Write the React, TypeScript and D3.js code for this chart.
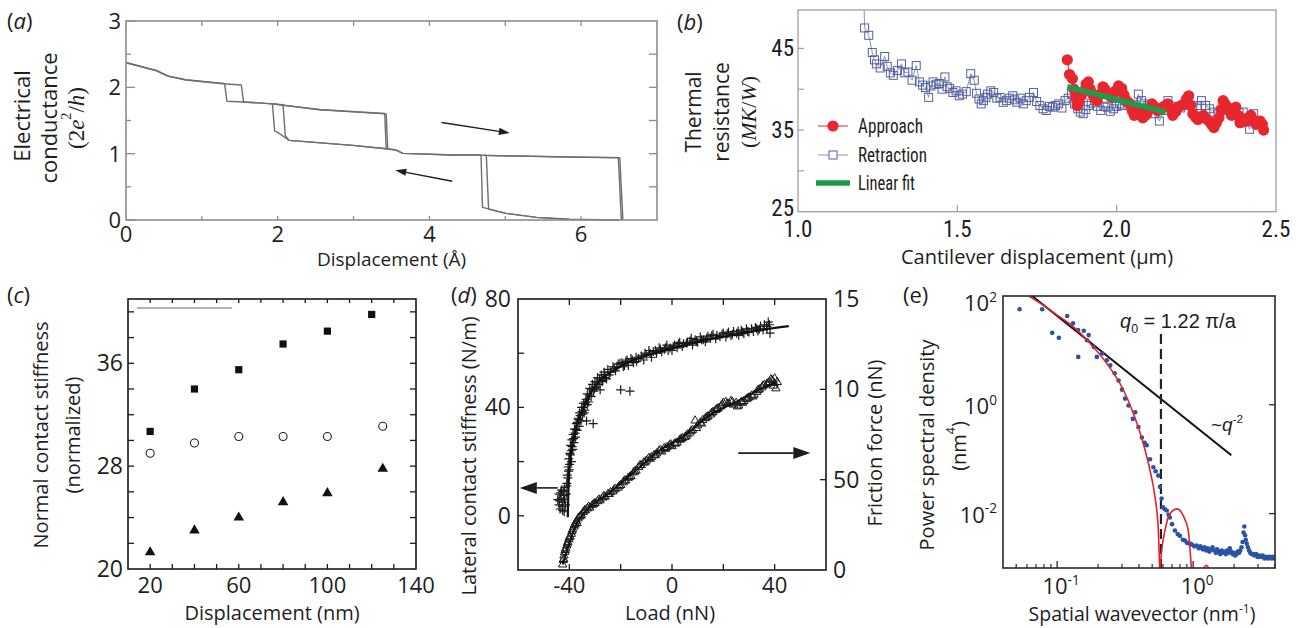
import React, { useEffect, useRef } from 'react';
import * as d3 from 'd3';

type Pt = [number, number];

const SANS = "'Open Sans', 'Noto Sans', 'DejaVu Sans', sans-serif";
const NARROW = "'Liberation Sans Narrow', 'Arial Narrow', 'Roboto Condensed', 'Liberation Sans', sans-serif";
const SERIF = "'Liberation Serif', 'DejaVu Serif', serif";
const ARIAL = "'Liberation Sans', Arial, sans-serif";
const INK = '#1e1e1e';

// ---------- (a) electrical conductance vs displacement (Å, 2e²/h)
const condTrace1: Pt[] = [[0, 2.375], [0.4, 2.255], [0.57, 2.165], [0.79, 2.115], [1.28, 2.06], [1.3, 2.055], [1.33, 1.79], [1.55, 1.78], [1.93, 1.75], [1.96, 1.34], [2.0, 1.32], [2.1, 1.24], [2.15, 1.2], [2.99, 1.125], [3.43, 1.075], [3.56, 1.055], [3.65, 1.005], [4.31, 0.98], [4.68, 0.98], [4.7, 0.19], [5.01, 0.1], [5.41, 0.04], [5.85, 0.012], [6.5, 0]];
const condTrace2: Pt[] = [[0, 2.37], [0.4, 2.25], [0.55, 2.17], [0.79, 2.11], [1.28, 2.055], [1.52, 2.035], [1.55, 1.78], [1.93, 1.75], [2.07, 1.74], [2.1, 1.27], [2.15, 1.2], [2.99, 1.125], [3.43, 1.075], [3.56, 1.055], [3.65, 1.005], [4.31, 0.98], [4.75, 0.978], [4.78, 0.165], [5.01, 0.1], [5.41, 0.04], [5.85, 0.01], [6.5, 0]];
const condUpper1: Pt[] = [[1.93, 1.75], [2.55, 1.665], [3.41, 1.605], [3.43, 1.075]];
const condUpper2: Pt[] = [[1.95, 1.748], [2.55, 1.66], [3.43, 1.6], [3.45, 1.07]];
const condPlateau1: Pt[] = [[4.7, 0.975], [5.85, 0.95], [6.49, 0.94], [6.53, 0]];
const condPlateau2: Pt[] = [[4.78, 0.972], [5.85, 0.948], [6.51, 0.938], [6.55, 0]];
const condArrows: [Pt, Pt][] = [[[4.16, 1.47], [5.06, 1.31]], [[4.3, 0.585], [3.55, 0.75]]];
const condXTicks = [0, 2, 4, 6];
const condYTicks = [0, 1, 2, 3];

// ---------- (b) thermal resistance vs cantilever displacement (µm, MK/W)
const retraction: Pt[] = [[1.207, 51.0], [1.209, 47.5], [1.222, 46.6], [1.233, 44.5], [1.24, 43.6], [1.246, 43.1], [1.258, 42.6], [1.272, 44.0], [1.28, 42.8], [1.29, 42.0], [1.299, 41.7], [1.312, 42.3], [1.325, 43.1], [1.335, 42.0], [1.345, 42.1], [1.358, 41.1], [1.371, 42.9], [1.381, 40.9], [1.391, 40.5], [1.4, 40.2], [1.41, 39.0], [1.417, 40.4], [1.424, 40.9], [1.433, 40.6], [1.443, 40.7], [1.452, 40.0], [1.461, 41.5], [1.468, 40.3], [1.476, 40.1], [1.486, 39.6], [1.496, 39.8], [1.506, 39.2], [1.516, 39.4], [1.528, 39.7], [1.542, 41.9], [1.553, 41.1], [1.56, 39.5], [1.568, 38.8], [1.575, 38.2], [1.582, 38.6], [1.59, 39.0], [1.595, 39.4], [1.605, 39.8], [1.614, 39.6], [1.624, 38.9], [1.634, 39.0], [1.644, 38.4], [1.654, 38.6], [1.664, 38.9], [1.674, 39.2], [1.68, 38.7], [1.687, 38.4], [1.697, 38.9], [1.707, 38.2], [1.716, 38.6], [1.726, 39.0], [1.739, 39.6], [1.749, 38.5], [1.759, 38.0], [1.769, 37.6], [1.779, 37.4], [1.789, 37.9], [1.799, 37.8], [1.808, 38.0], [1.818, 38.2], [1.828, 37.7], [1.838, 38.6], [1.848, 38.9], [1.858, 39.4], [1.868, 38.2], [1.878, 37.6], [1.886, 37.2], [1.895, 37.0], [1.903, 37.5], [1.911, 38.0], [1.92, 38.3], [1.93, 38.6], [1.94, 37.9], [1.95, 37.4], [1.96, 37.9], [1.97, 37.8], [1.98, 37.3], [1.99, 37.6], [2.0, 37.9], [2.009, 38.2], [2.019, 38.0], [2.029, 38.6], [2.039, 38.0], [2.049, 37.6], [2.058, 38.1], [2.068, 39.4], [2.078, 38.6], [2.088, 38.2], [2.098, 38.0], [2.108, 37.8], [2.12, 37.0], [2.134, 36.1], [2.147, 37.4], [2.161, 38.6], [2.174, 37.9], [2.187, 37.4], [2.2, 37.7], [2.213, 38.0], [2.226, 38.2], [2.239, 37.8], [2.252, 38.0], [2.266, 38.6], [2.279, 38.0], [2.292, 37.6], [2.305, 37.2], [2.318, 37.0], [2.331, 37.5], [2.345, 37.4], [2.358, 37.0], [2.371, 36.8], [2.384, 37.1], [2.397, 37.2], [2.407, 36.0], [2.417, 35.1], [2.424, 36.3], [2.43, 37.0]];
const approach: Pt[] = [[1.845, 43.6], [1.852, 41.8], [1.861, 41.3], [1.866, 40.0], [1.871, 39.0], [1.876, 38.0], [1.882, 38.4], [1.889, 39.2], [1.897, 39.8], [1.904, 40.6], [1.911, 40.9], [1.917, 40.0], [1.924, 39.4], [1.931, 38.9], [1.939, 38.6], [1.948, 39.4], [1.957, 40.3], [1.963, 40.0], [1.97, 39.6], [1.977, 39.3], [1.983, 39.0], [1.99, 39.4], [1.996, 39.8], [2.006, 40.4], [2.016, 40.1], [2.023, 39.3], [2.029, 38.6], [2.036, 38.4], [2.042, 38.2], [2.049, 37.4], [2.055, 36.8], [2.062, 37.0], [2.068, 37.4], [2.075, 36.9], [2.082, 36.5], [2.088, 36.7], [2.095, 37.0], [2.103, 37.6], [2.111, 38.2], [2.12, 37.8], [2.128, 37.4], [2.137, 37.5], [2.145, 37.8], [2.153, 38.0], [2.161, 38.2], [2.169, 37.6], [2.176, 36.8], [2.184, 37.2], [2.193, 37.8], [2.202, 38.0], [2.211, 38.2], [2.219, 38.8], [2.226, 39.2], [2.232, 38.0], [2.239, 37.0], [2.247, 36.6], [2.255, 36.3], [2.263, 36.6], [2.272, 36.8], [2.28, 36.4], [2.289, 36.1], [2.297, 35.7], [2.305, 35.3], [2.313, 35.9], [2.321, 36.5], [2.327, 37.5], [2.334, 38.6], [2.34, 38.2], [2.347, 37.8], [2.354, 37.3], [2.361, 36.8], [2.367, 37.3], [2.374, 37.8], [2.381, 36.8], [2.387, 35.9], [2.396, 36.0], [2.404, 36.1], [2.412, 36.5], [2.421, 36.8], [2.429, 36.2], [2.437, 35.7], [2.444, 35.9], [2.45, 36.1], [2.457, 35.7], [2.461, 35.0]];
const linearFit: Pt[] = [[1.845, 40.3], [2.154, 37.2]];
const thermLegend = ['Approach', 'Retraction', 'Linear fit'];
const thermXTicks = [1.0, 1.5, 2.0, 2.5];
const thermYTicks = [25, 35, 45];

// ---------- (c) normal contact stiffness vs displacement (nm)
const stiffX = [20, 40, 60, 80, 100, 120];
const stiffSquares = [30.7, 34.0, 35.5, 37.5, 38.5, 39.8];
const stiffX2 = [20, 40, 60, 80, 100, 125];
const stiffCircles = [29.0, 29.8, 30.3, 30.3, 30.3, 31.1];
const stiffTriangles = [21.3, 23.0, 24.0, 25.2, 25.9, 27.8];
const stiffGrayLine: Pt[] = [[14, 40.3], [57, 40.3]];
const stiffXTicks = [20, 60, 100, 140];
const stiffYTicks = [20, 28, 36];

// ---------- (d) lateral stiffness (left, N/m) and friction force (right, nN) vs load (nN)
const lateralStiff: Pt[] = [[-44.5, 6], [-44, 8], [-44, 4], [-43.8, 5.5], [-43.6, 2.5], [-43.4, 8.5], [-43.2, 6.5], [-43, 9.5], [-42.8, 3.5], [-42.6, 2], [-42.5, 5], [-42.3, 9], [-42.2, 7.5], [-42, 1.5], [-41.9, 6], [-41.8, 10.5], [-41.5, 4], [-41.2, 8], [-41, 12], [-40.9, 11], [-40.8, 15], [-40.6, 14], [-40.5, 18], [-40.3, 16.5], [-40.2, 21], [-40, 17], [-39.9, 19], [-39.8, 23], [-39.6, 22.5], [-39.5, 26], [-39.3, 24], [-39.2, 20], [-39, 28], [-38.9, 25.5], [-38.7, 24.5], [-38.5, 30], [-38.4, 28.5], [-38.2, 27], [-38, 32], [-37.8, 30.5], [-37.6, 29], [-37.4, 32], [-37.3, 34], [-37, 31.5], [-36.8, 34.5], [-36.6, 36], [-36.4, 35.5], [-36.2, 33], [-36, 38], [-35.8, 37], [-35.5, 35], [-35.2, 40], [-35, 38.5], [-34.8, 37.5], [-34.6, 40], [-34.4, 41.5], [-34.2, 38], [-34, 39], [-33.8, 42], [-33.5, 43], [-33.3, 35], [-33, 45], [-33, 41], [-32.5, 42], [-32.2, 44.5], [-32, 47], [-31.5, 44], [-31.2, 46.5], [-31, 48.5], [-30.7, 34], [-30.5, 46], [-30.2, 47], [-30, 49.5], [-29.5, 47.5], [-29.2, 49], [-29, 51], [-28.5, 48.5], [-28.2, 50.5], [-28, 46.5], [-27.5, 52], [-27.2, 49.5], [-27, 50], [-26.5, 53], [-26.2, 52], [-26, 51], [-25.5, 50.5], [-25, 54], [-24.5, 52], [-24, 53], [-23, 55], [-22.5, 54.5], [-22, 53.5], [-21.5, 55], [-21, 56], [-20.3, 56.3], [-20, 46.5], [-19.5, 56.5], [-19, 55], [-18.5, 55.5], [-18, 57], [-17.5, 57.5], [-17, 55.5], [-16.4, 46], [-16, 58], [-15.5, 57.5], [-15, 56.5], [-14, 58.5], [-13.8, 57], [-13, 58], [-12, 59], [-11, 57.5], [-10.5, 60], [-10, 59.5], [-9, 61], [-8.5, 60], [-8, 58.5], [-7.3, 60.6], [-6.5, 61], [-6, 60], [-5, 62], [-4.5, 61.5], [-4, 60.5], [-3, 61.5], [-2.5, 62], [-2, 63], [-1.5, 61], [-0.8, 61.9], [0, 61], [0.5, 62.5], [1, 63], [2, 62], [2.5, 63.5], [3, 64], [4, 62.5], [4.5, 63.5], [5.7, 63.7], [6, 64], [7, 64.5], [7.5, 65.5], [8, 63], [9, 65], [9.5, 64.5], [10, 64], [11, 66], [11.5, 65], [12.2, 65], [13, 64.2], [13.5, 65.5], [14, 66.3], [15, 65.5], [15.5, 66.5], [16, 67], [17, 65.3], [17.5, 66.5], [18.7, 66.2], [19.5, 67], [20, 67.5], [21, 66], [21.5, 67.2], [22, 67.8], [23, 66.5], [23.5, 67], [24, 68], [25.2, 67.4], [25.8, 68.2], [26, 66.6], [27, 68.5], [27.5, 67.8], [28, 67.2], [29, 69], [29.5, 68], [30, 67.8], [31, 69], [31.7, 68], [32.5, 69.5], [33, 69], [33.5, 68.2], [34, 68.8], [34.5, 70], [35.5, 68.6], [36, 70.5], [36.9, 69.9], [37, 69], [37.5, 71.5], [38, 70.5], [38.2, 67.4]];
const lateralFit: Pt[] = [[-40.6, -0.5], [-40.4, 8], [-40.2, 13], [-39.8, 19], [-39.2, 24], [-38.5, 28], [-37, 33.5], [-35, 39], [-32, 45], [-28, 50], [-22, 54], [-15, 57.5], [-5, 60.5], [5, 63], [15, 65.2], [25, 67], [35, 68.7], [45.5, 70]];
const friction: Pt[] = [[-42.6, 0.3], [-42.4, 0.55], [-42.2, 0.6], [-42.1, 0.8], [-41.8, 1.0], [-41.6, 1.1], [-41.4, 1.2], [-41, 1.35], [-40.8, 1.45], [-40.6, 1.55], [-40.2, 1.7], [-40, 1.8], [-39.7, 1.85], [-39.2, 2.0], [-39, 2.15], [-38.7, 2.25], [-38.2, 2.4], [-38, 2.5], [-37.7, 2.55], [-37.2, 2.7], [-37, 2.6], [-36.6, 2.85], [-36, 2.95], [-35.6, 3.0], [-35.3, 3.05], [-34.6, 3.2], [-34, 3.3], [-33.8, 3.3], [-33, 3.4], [-32.5, 3.5], [-32, 3.45], [-31, 3.6], [-30.5, 3.65], [-30, 3.7], [-29, 3.8], [-28.5, 3.9], [-28, 3.85], [-27, 4.0], [-26.5, 4.1], [-26, 4.05], [-25, 4.2], [-24.5, 4.2], [-24, 4.3], [-23, 4.35], [-22.5, 4.45], [-22, 4.5], [-21, 4.55], [-20.5, 4.65], [-20, 4.7], [-19, 4.85], [-18.5, 4.95], [-18, 4.95], [-17, 5.1], [-16.5, 5.15], [-16, 5.2], [-15, 5.4], [-14.5, 5.45], [-14, 5.5], [-13, 5.7], [-12.5, 5.8], [-12, 5.8], [-11, 5.95], [-10.5, 5.95], [-10, 6.05], [-9, 6.2], [-8.5, 6.15], [-8, 6.25], [-7, 6.35], [-6.5, 6.35], [-6, 6.45], [-5, 6.6], [-4.5, 6.65], [-4, 6.55], [-3, 6.75], [-2.5, 6.7], [-2, 6.8], [-1, 6.9], [-0.5, 6.95], [0, 6.85], [1, 7.0], [1.5, 7.0], [2, 7.05], [3, 7.2], [3.5, 7.25], [4, 7.3], [5, 7.35], [5.5, 7.4], [6, 7.5], [7, 7.6], [7.5, 7.7], [8, 7.75], [9, 8.27], [9.5, 7.85], [10, 8.0], [11, 8.15], [11.5, 8.1], [12, 8.3], [13, 8.4], [13.5, 8.45], [14, 8.5], [15, 8.6], [15.5, 8.7], [16, 8.75], [17, 8.85], [17.5, 8.9], [18, 8.95], [19, 9.05], [19.5, 9.15], [20, 9.25], [21, 9.3], [21.5, 9.2], [22, 9.2], [23, 9.35], [23.5, 9.3], [24, 9.15], [25, 9.25], [25.5, 9.05], [26, 9.1], [27, 9.3], [27.5, 9.25], [28, 9.35], [29, 9.45], [29.5, 9.5], [30, 9.55], [31, 9.65], [31.5, 9.6], [32, 9.7], [33, 9.85], [33.5, 9.95], [34, 10.0], [35, 10.1], [35.5, 10.2], [36, 10.25], [37, 10.3], [37.5, 10.35], [38, 10.4], [38.5, 10.55], [39, 10.5], [39.5, 10.2], [39.8, 10.35], [40, 10.6], [40.5, 10.05], [41, 10.4]];
const frictionFit: Pt[] = [[-42.6, 0.3], [-40, 1.5], [-37, 2.6], [-33, 3.35], [-25, 4.2], [-15, 5.4], [-5, 6.6], [5, 7.45], [15, 8.6], [25, 9.3], [35, 10.05], [41, 10.4]];
const lateralArrow: Pt[] = [[-44.5, 10.3], [-59.3, 10.3]]; // left-axis units
const frictionArrow: Pt[] = [[25.8, 6.47], [53.9, 6.47]]; // right-axis units
const loadXTicks = [-40, 0, 40];
const lateralYTicks = [0, 40, 80];
const frictionYTicks = [0, 5, 10, 15];
const frictionYLabels = ['0', '50', '10', '15'];

// ---------- (e) power spectral density vs spatial wavevector (log–log)
const psdPoints: Pt[] = [[0.053, 57], [0.0776, 57], [0.092, 21], [0.103, 17], [0.1186, 42.8], [0.131, 31.4], [0.1426, 23.6], [0.143, 7.6], [0.157, 22.9], [0.166, 15.4], [0.1706, 19.1], [0.186, 11.6], [0.196, 7.6], [0.214, 8.8], [0.232, 6.6], [0.246, 5.3], [0.265, 3.8], [0.283, 2.8], [0.3, 1.9], [0.316, 1.3], [0.335, 0.97], [0.36, 0.55], [0.375, 0.73], [0.396, 0.39], [0.42, 0.25], [0.44, 0.2], [0.456, 0.18], [0.482, 0.1], [0.51, 0.071], [0.53, 0.06], [0.555, 0.05], [0.57, 0.031], [0.587, 0.019], [0.6, 0.013], [0.62, 0.012], [0.64, 0.0114], [0.66, 0.0095], [0.675, 0.0085], [0.7, 0.0064], [0.735, 0.0049], [0.77, 0.0042], [0.8, 0.0039], [0.84, 0.0033], [0.87, 0.0032], [0.9, 0.0029], [0.946, 0.0028], [0.98, 0.0027], [1.02, 0.0025], [1.06, 0.0026], [1.1, 0.0023], [1.13, 0.0025], [1.18, 0.0022], [1.21, 0.0024], [1.25, 0.0021], [1.28, 0.0023], [1.32, 0.002], [1.36, 0.0022], [1.39, 0.0024], [1.43, 0.0021], [1.47, 0.0019], [1.5, 0.0022], [1.54, 0.002], [1.58, 0.0018], [1.62, 0.0021], [1.65, 0.0019], [1.7, 0.002], [1.74, 0.0018], [1.78, 0.0021], [1.82, 0.0019], [1.86, 0.0023], [1.9, 0.002], [1.95, 0.0018], [2.0, 0.0019], [2.04, 0.0017], [2.08, 0.0018], [2.13, 0.002], [2.18, 0.0019], [2.22, 0.0021], [2.27, 0.0024], [2.31, 0.003], [2.35, 0.0045], [2.38, 0.0058], [2.41, 0.004], [2.44, 0.0033], [2.48, 0.0028], [2.53, 0.0024], [2.58, 0.0021], [2.63, 0.0019], [2.69, 0.0018], [2.75, 0.0018], [2.82, 0.0017], [2.9, 0.0018], [2.98, 0.0016], [3.06, 0.0017], [3.15, 0.0016], [3.25, 0.0017], [3.35, 0.0015], [3.45, 0.0016], [3.55, 0.0015], [3.65, 0.0016], [3.75, 0.0015], [3.85, 0.0016], [3.95, 0.0015]];
const airyFit: Pt[] = [[0.062, 100], [0.0757, 73], [0.1, 44.6], [0.132, 27.1], [0.175, 13.4], [0.232, 5.75], [0.308, 1.85], [0.364, 0.69], [0.431, 0.19], [0.482, 0.062], [0.525, 0.0198], [0.555, 0.0049], [0.567, 0.001]];
const airyLobe: Pt[] = [[0.572, 0.001], [0.587, 0.0021], [0.621, 0.0049], [0.675, 0.0099], [0.764, 0.0122], [0.845, 0.0092], [0.92, 0.0049], [0.97, 0.001]];
const airyLobe2: Pt[] = [[1.2, 0.001], [1.25, 0.00112], [1.3, 0.001]];
const powerLaw: Pt[] = [[0.0656, 100], [1.91, 0.118]];
const q0 = 0.58;
const q0Top = 20;
const psdXTicks = [0.1, 1];
const psdXMinor = [0.05, 0.06, 0.07, 0.08, 0.09, 0.2, 0.3, 0.4, 0.5, 0.6, 0.7, 0.8, 0.9, 2, 3, 4];
const psdYTicks = [100, 1, 0.01];

type Part = { t: string; italic?: boolean; sup?: boolean; sub?: boolean; family?: string };

const App = () => {
  const svgRef = useRef<SVGSVGElement>(null);

  useEffect(() => {
    const svg = d3.select(svgRef.current);
    svg.selectAll('*').remove();
    const defs = svg.append('defs');

    const txt = (g: any, x: number, y: number, s: string, o: any = {}) =>
      g.append('text')
        .attr('x', x).attr('y', y)
        .attr('font-family', o.family || SANS)
        .attr('font-size', o.size || 20)
        .attr('font-style', o.italic ? 'italic' : 'normal')
        .attr('fill', o.fill || INK)
        .attr('text-anchor', o.anchor || 'start')
        .text(s);

    const rich = (g: any, parts: Part[], o: any) => {
      const t = g.append('text')
        .attr('font-family', o.family || SANS)
        .attr('font-size', o.size)
        .attr('fill', INK)
        .attr('text-anchor', o.anchor || 'start');
      if (o.transform) t.attr('transform', o.transform).attr('dominant-baseline', 'central');
      else t.attr('x', o.x).attr('y', o.y);
      let shift = 0;
      parts.forEach(p => {
        const target = p.sup ? -o.size * 0.42 : p.sub ? o.size * 0.25 : 0;
        const ts = t.append('tspan').attr('dy', target - shift).text(p.t);
        shift = target;
        if (p.sup || p.sub) ts.attr('font-size', o.size * 0.62);
        if (p.italic) ts.attr('font-style', 'italic');
        if (p.family) ts.attr('font-family', p.family);
      });
      return t;
    };

    const vtitle = (g: any, cx: number, cy: number, s: string, size: number, family = SANS) =>
      g.append('text')
        .attr('transform', `translate(${cx},${cy}) rotate(-90)`)
        .attr('text-anchor', 'middle')
        .attr('dominant-baseline', 'central')
        .attr('font-family', family)
        .attr('font-size', size)
        .attr('fill', INK)
        .text(s);

    const frame = (g: any, x: any, y: any, color: string, w: number) => {
      const [x0, x1] = x.range();
      const [y1, y0] = y.range();
      g.append('rect')
        .attr('x', x0).attr('y', y0)
        .attr('width', x1 - x0).attr('height', y1 - y0)
        .attr('fill', 'none').attr('stroke', color).attr('stroke-width', w);
    };

    const tickMarks = (g: any, vals: number[], s: any, side: string, other: any, len: number, color: string, w: number) => {
      const [o0, o1] = d3.extent(other.range()) as [number, number];
      vals.forEach(v => {
        const p = s(v);
        let c: number[];
        if (side === 'bottom') c = [p, o1, p, o1 - len];
        else if (side === 'top') c = [p, o0, p, o0 + len];
        else if (side === 'left') c = [o0, p, o0 + len, p];
        else c = [o1, p, o1 - len, p];
        g.append('line')
          .attr('x1', c[0]).attr('y1', c[1]).attr('x2', c[2]).attr('y2', c[3])
          .attr('stroke', color).attr('stroke-width', w);
      });
    };

    const clip = (id: string, x: any, y: any) => {
      const [x0, x1] = x.range();
      const [y1, y0] = y.range();
      defs.append('clipPath').attr('id', id).append('rect')
        .attr('x', x0).attr('y', y0).attr('width', x1 - x0).attr('height', y1 - y0);
      return `url(#${id})`;
    };

    const arrow = (g: any, a: Pt, b: Pt, head: number, half: number, w: number) => {
      const ang = Math.atan2(b[1] - a[1], b[0] - a[0]);
      const bx = b[0] - head * Math.cos(ang), by = b[1] - head * Math.sin(ang);
      g.append('line').attr('x1', a[0]).attr('y1', a[1]).attr('x2', bx).attr('y2', by)
        .attr('stroke', INK).attr('stroke-width', w);
      const px = -Math.sin(ang) * half, py = Math.cos(ang) * half;
      g.append('path').attr('d', `M${b[0]},${b[1]}L${bx + px},${by + py}L${bx - px},${by - py}Z`).attr('fill', INK);
    };

    const seq = (a: number, b: number, step: number) => d3.range(a, b + step / 2, step);

    // ======================= (a)
    {
      const g = svg.append('g');
      const x = d3.scaleLinear().domain([0, 7]).range([126, 657]);
      const y = d3.scaleLinear().domain([0, 3]).range([220, 21]);
      const line = d3.line<Pt>().x(d => x(d[0])).y(d => y(d[1]));
      [condTrace1, condTrace2, condUpper1, condUpper2, condPlateau1, condPlateau2].forEach(tr => {
        g.append('path').datum(tr).attr('d', line).attr('fill', 'none')
          .attr('stroke', '#6e6e6e').attr('stroke-width', 1.4).attr('stroke-linejoin', 'round');
      });
      frame(g, x, y, '#8c8c8c', 1.6);
      tickMarks(g, seq(0, 3, 1), y, 'left', x, 9, '#8c8c8c', 1.3);
      tickMarks(g, [0.5, 1.5, 2.5], y, 'left', x, 5, '#8c8c8c', 1.3);
      tickMarks(g, seq(0.5, 2.5, 0.5), y, 'right', x, 8, '#8c8c8c', 1.3);
      tickMarks(g, seq(1, 6, 1), x, 'top', y, 5, '#8c8c8c', 1.3);
      tickMarks(g, seq(1, 6, 1), x, 'bottom', y, 4, '#8c8c8c', 1.3);
      condArrows.forEach(([a, b]) => arrow(g, [x(a[0]), y(a[1])], [x(b[0]), y(b[1])], 11, 3.6, 1.4));
      condXTicks.forEach(v => txt(g, x(v), 242, String(v), { size: 22, anchor: 'middle' }));
      condYTicks.forEach(v => txt(g, 121, y(v) + 8, String(v), { size: 22, anchor: 'end' }));
      txt(g, x(3.5), 266, 'Displacement (Å)', { size: 19, anchor: 'middle' });
      vtitle(g, 21, 116, 'Electrical', 22);
      vtitle(g, 48, 118, 'conductance', 22);
      rich(g, [{ t: '(2' }, { t: 'e', italic: true }, { t: '2', sup: true }, { t: '/' }, { t: 'h', italic: true }, { t: ')' }],
        { size: 23, family: SERIF, anchor: 'middle', transform: 'translate(76,118) rotate(-90)' });
      rich(g, [{ t: '(' }, { t: 'a', italic: true }, { t: ')' }], { x: 7, y: 29, size: 22 });
    }

    // ======================= (b)
    {
      const g = svg.append('g');
      const x = d3.scaleLinear().domain([1.0, 2.5]).range([798, 1276]);
      const y = d3.scaleLinear().domain([25, 49.7]).range([211.7, 10]);
      const line = d3.line<Pt>().x(d => x(d[0])).y(d => y(d[1]));
      const cp = clip('clipB', x, y);
      const data = g.append('g').attr('clip-path', cp);
      data.append('path').datum(retraction).attr('d', line).attr('fill', 'none')
        .attr('stroke', '#7d86b8').attr('stroke-width', 0.9);
      data.selectAll('rect.r').data(retraction).join('rect')
        .attr('x', d => x(d[0]) - 4).attr('y', d => y(d[1]) - 4)
        .attr('width', 8).attr('height', 8)
        .attr('fill', 'none').attr('stroke', '#55619e').attr('stroke-width', 1);
      data.append('path').datum(approach).attr('d', line).attr('fill', 'none')
        .attr('stroke', '#e8262d').attr('stroke-width', 1);
      data.selectAll('circle.a').data(approach).join('circle')
        .attr('cx', d => x(d[0])).attr('cy', d => y(d[1])).attr('r', 5.6)
        .attr('fill', '#e8262d');
      data.append('path').datum(linearFit).attr('d', line).attr('fill', 'none')
        .attr('stroke', '#1c9c4a').attr('stroke-width', 5.5);
      frame(g, x, y, '#a0a0a0', 1.3);
      tickMarks(g, [30, 35, 40, 45], y, 'left', x, 6, '#a0a0a0', 1.2);
      tickMarks(g, [1.5, 2.0], x, 'bottom', y, 7, '#a0a0a0', 1.2);
      thermYTicks.forEach(v => txt(g, 794, y(v) + (v === 25 ? 4 : 8), String(v), { size: 23, anchor: 'end', family: NARROW }));
      thermXTicks.forEach(v => txt(g, x(v), 237, v.toFixed(1), { size: 23, anchor: 'middle', family: NARROW }));
      txt(g, (798 + 1276) / 2, 264, 'Cantilever displacement (μm)', { size: 20, anchor: 'middle' });
      vtitle(g, 693, 112, 'Thermal', 21);
      vtitle(g, 721, 112, 'resistance', 21);
      rich(g, [{ t: '(' }, { t: 'MK', italic: true }, { t: '/' }, { t: 'W', italic: true }, { t: ')' }],
        { size: 22, family: SERIF, anchor: 'middle', transform: 'translate(748,112) rotate(-90)' });
      rich(g, [{ t: '(' }, { t: 'b', italic: true }, { t: ')' }], { x: 677, y: 30, size: 22 });
      // legend
      const lx0 = 818, lx1 = 848, ly = [126, 155, 183];
      const widths = [65, 69, 57];
      g.append('line').attr('x1', lx0).attr('x2', lx1).attr('y1', ly[0]).attr('y2', ly[0]).attr('stroke', '#e8262d').attr('stroke-width', 1);
      g.append('circle').attr('cx', (lx0 + lx1) / 2).attr('cy', ly[0]).attr('r', 5.6).attr('fill', '#e8262d');
      g.append('line').attr('x1', lx0).attr('x2', lx1).attr('y1', ly[1]).attr('y2', ly[1]).attr('stroke', '#7d86b8').attr('stroke-width', 0.9);
      g.append('rect').attr('x', (lx0 + lx1) / 2 - 4).attr('y', ly[1] - 4).attr('width', 8).attr('height', 8)
        .attr('fill', '#fff').attr('stroke', '#55619e').attr('stroke-width', 1);
      g.append('line').attr('x1', lx0 - 2).attr('x2', lx1 + 2).attr('y1', ly[2]).attr('y2', ly[2]).attr('stroke', '#1c9c4a').attr('stroke-width', 5.5);
      thermLegend.forEach((s, i) => {
        txt(g, 858, ly[i] + 7, s, { size: 20, family: NARROW })
          .attr('textLength', widths[i]).attr('lengthAdjust', 'spacingAndGlyphs');
      });
    }

    // ======================= (c)
    {
      const g = svg.append('g');
      const x = d3.scaleLinear().domain([10, 140]).range([128, 416]);
      const y = d3.scaleLinear().domain([20, 41]).range([569, 299]);
      g.append('path').datum(stiffGrayLine)
        .attr('d', d3.line<Pt>().x(d => x(d[0])).y(d => y(d[1])))
        .attr('stroke', '#9a9a9a').attr('stroke-width', 1.4).attr('fill', 'none');
      g.selectAll('rect.s').data(stiffX.map((v, i) => [v, stiffSquares[i]] as Pt)).join('rect')
        .attr('x', d => x(d[0]) - 3.6).attr('y', d => y(d[1]) - 3.6)
        .attr('width', 7.2).attr('height', 7.2).attr('fill', '#111');
      g.selectAll('circle.c').data(stiffX2.map((v, i) => [v, stiffCircles[i]] as Pt)).join('circle')
        .attr('cx', d => x(d[0])).attr('cy', d => y(d[1])).attr('r', 4)
        .attr('fill', 'none').attr('stroke', '#222').attr('stroke-width', 1.1);
      const tri = d3.symbol().type(d3.symbolTriangle).size(48);
      g.selectAll('path.t').data(stiffX2.map((v, i) => [v, stiffTriangles[i]] as Pt)).join('path')
        .attr('d', tri).attr('transform', d => `translate(${x(d[0])},${y(d[1])})`).attr('fill', '#111');
      frame(g, x, y, '#1a1a1a', 1.6);
      tickMarks(g, seq(22, 40, 2), y, 'left', x, 6, '#1a1a1a', 1.3);
      tickMarks(g, seq(22, 40, 2), y, 'right', x, 6, '#1a1a1a', 1.3);
      tickMarks(g, seq(20, 130, 10), x, 'bottom', y, 5, '#1a1a1a', 1.3);
      tickMarks(g, seq(20, 130, 10), x, 'top', y, 4, '#1a1a1a', 1.3);
      stiffYTicks.forEach(v => txt(g, 123, y(v) + 8, String(v), { size: 23, anchor: 'end' }));
      stiffXTicks.forEach(v => txt(g, x(v), 593, String(v), { size: 22, anchor: 'middle' }));
      txt(g, 272, 620, 'Displacement (nm)', { size: 20, anchor: 'middle' });
      vtitle(g, 40, 435, 'Normal contact stiffness', 20);
      vtitle(g, 72, 435, '(normalized)', 20);
      rich(g, [{ t: '(' }, { t: 'c', italic: true }, { t: ')' }], { x: 7, y: 303, size: 22 });
    }

    // ======================= (d)
    {
      const g = svg.append('g');
      const x = d3.scaleLinear().domain([-60, 60]).range([518, 826]);
      const yL = d3.scaleLinear().domain([-20, 80]).range([570, 299]);
      const yR = d3.scaleLinear().domain([0, 15]).range([570, 299]);
      const cp = clip('clipD', x, yL);
      const data = g.append('g').attr('clip-path', cp);
      data.selectAll('path.x').data(lateralStiff).join('path')
        .attr('d', 'M-4.5,0H4.5M0,-4.5V4.5')
        .attr('transform', d => `translate(${x(d[0])},${yL(d[1])})`)
        .attr('stroke', '#1a1a1a').attr('stroke-width', 1.2).attr('fill', 'none');
      data.append('path').datum(lateralFit)
        .attr('d', d3.line<Pt>().x(d => x(d[0])).y(d => yL(d[1])).curve(d3.curveMonotoneX))
        .attr('fill', 'none').attr('stroke', '#111').attr('stroke-width', 2.2);
      const tri = d3.symbol().type(d3.symbolTriangle).size(30);
      data.selectAll('path.f').data(friction).join('path')
        .attr('d', tri).attr('transform', d => `translate(${x(d[0])},${yR(d[1])})`)
        .attr('fill', 'none').attr('stroke', '#1a1a1a').attr('stroke-width', 1);
      data.append('path').datum(frictionFit)
        .attr('d', d3.line<Pt>().x(d => x(d[0])).y(d => yR(d[1])).curve(d3.curveMonotoneX))
        .attr('fill', 'none').attr('stroke', '#111').attr('stroke-width', 2);
      frame(g, x, yL, '#1a1a1a', 1.6);
      tickMarks(g, seq(-40, 40, 20), x, 'bottom', yL, 6, '#1a1a1a', 1.3);
      tickMarks(g, seq(-40, 40, 20), x, 'top', yL, 6, '#1a1a1a', 1.3);
      tickMarks(g, seq(0, 60, 20), yL, 'left', x, 6, '#1a1a1a', 1.3);
      tickMarks(g, [5, 10], yR, 'right', x, 6, '#1a1a1a', 1.3);
      arrow(g, [x(lateralArrow[0][0]), yL(lateralArrow[0][1])], [x(lateralArrow[1][0]), yL(lateralArrow[1][1])], 17, 6, 1.6);
      arrow(g, [x(frictionArrow[0][0]), yR(frictionArrow[0][1])], [x(frictionArrow[1][0]), yR(frictionArrow[1][1])], 17, 6, 1.6);
      lateralYTicks.forEach(v => txt(g, 511, yL(v) + 8, String(v), { size: 23, anchor: 'end' }));
      frictionYTicks.forEach((v, i) => txt(g, 833, yR(v) + 8, frictionYLabels[i], { size: 23 }));
      loadXTicks.forEach(v => txt(g, x(v), 593, String(v), { size: 22, anchor: 'middle' }));
      txt(g, 670, 620, 'Load (nN)', { size: 20, anchor: 'middle' });
      vtitle(g, 468, 456, 'Lateral contact stiffness (N/m)', 20);
      vtitle(g, 874, 443, 'Friction force (nN)', 20);
      rich(g, [{ t: '(' }, { t: 'd', italic: true }, { t: ')' }], { x: 451, y: 303, size: 22 });
    }

    // ======================= (e)
    {
      const g = svg.append('g');
      const x = d3.scaleLog().domain([0.04, 4]).range([1003, 1275]);
      const y = d3.scaleLog().domain([1e-3, 1e2]).range([568, 296]);
      const line = d3.line<Pt>().x(d => x(d[0])).y(d => y(d[1]));
      const cp = clip('clipE', x, y);
      const data = g.append('g').attr('clip-path', cp);
      data.append('path').datum(powerLaw).attr('d', line).attr('fill', 'none')
        .attr('stroke', '#111').attr('stroke-width', 2);
      data.append('line').attr('x1', x(q0)).attr('x2', x(q0)).attr('y1', y(q0Top)).attr('y2', y(1e-3))
        .attr('stroke', '#222').attr('stroke-width', 2.2).attr('stroke-dasharray', '10,5');
      data.selectAll('circle.p').data(psdPoints).join('circle')
        .attr('cx', d => x(d[0])).attr('cy', d => y(d[1])).attr('r', 2.3).attr('fill', '#2b52a6');
      [airyFit, airyLobe, airyLobe2].forEach(tr => {
        data.append('path').datum(tr).attr('d', line.curve(d3.curveMonotoneX)).attr('fill', 'none')
          .attr('stroke', '#e0232b').attr('stroke-width', 1.6);
      });
      frame(g, x, y, '#2a2a2a', 1.6);
      tickMarks(g, psdXTicks, x, 'bottom', y, 7, '#2a2a2a', 1.3);
      tickMarks(g, psdXMinor, x, 'bottom', y, 4, '#2a2a2a', 1.2);
      tickMarks(g, [1, 0.01], y, 'right', x, 6, '#2a2a2a', 1.3);
      const pow = (v: number) => Math.round(Math.log10(v));
      psdYTicks.forEach(v => {
        const e = pow(v);
        rich(g, [{ t: '10' }, { t: e < 0 ? `-${-e}` : String(e), sup: true }], { x: 997, y: y(v) + (v === 100 ? 15 : 9), size: 22, anchor: 'end' });
      });
      psdXTicks.forEach(v => {
        const e = pow(v);
        rich(g, [{ t: '10' }, { t: e < 0 ? `-${-e}` : String(e), sup: true }], { x: x(v) + 4, y: 594, size: 22, anchor: 'middle' });
      });
      rich(g, [{ t: 'Spatial wavevector (nm' }, { t: '-1', sup: true }, { t: ')' }], { x: 1142, y: 621, size: 19.5, anchor: 'middle' });
      vtitle(g, 926, 445, 'Power spectral density', 20);
      rich(g, [{ t: '(nm' }, { t: '4', sup: true }, { t: ')' }], { size: 20, anchor: 'middle', transform: 'translate(958,446) rotate(-90)' });
      rich(g, [{ t: 'q', italic: true }, { t: '0', sub: true }, { t: ' = 1.22 π/a' }], { x: 1120, y: 328, size: 20, family: ARIAL });
      rich(g, [{ t: '~' }, { t: 'q', italic: true }, { t: '-2', sup: true }], { x: 1211, y: 431, size: 19, family: ARIAL });
      txt(g, 903, 303, '(e)', { size: 22 });
    }
  }, []);

  return (
    <svg
      ref={svgRef}
      width={1296}
      height={628}
      style={{ position: 'absolute', left: 0, top: 0, background: '#fff' }}
    />
  );
};

export default App;
